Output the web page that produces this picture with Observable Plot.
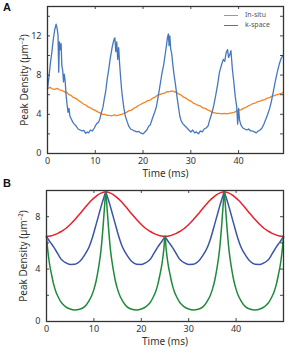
<!DOCTYPE html>
<html><head><meta charset="utf-8">
<script src="https://cdn.jsdelivr.net/npm/d3@7"></script>
<script src="https://cdn.jsdelivr.net/npm/@observablehq/plot@0.6"></script>
<style>
body{margin:0;background:#fff;}
#wrap{position:relative;width:300px;height:356px;font-family:"Noto Sans",sans-serif;}
#wrap svg{display:block;}
.panel{position:absolute;left:3px;font:bold 11px "Liberation Sans",Arial,sans-serif;color:#111;}
.leg{position:absolute;font:7px "Noto Sans",sans-serif;color:#555;line-height:10px;}
.leg span.sw{display:inline-block;width:14px;height:0;border-top:1.5px solid;vertical-align:middle;margin-right:7px;}
</style></head><body><div id="wrap"></div>
<script>
// ---------- Panel A data ----------
const tK = [0,0.3,0.6,0.9,1.2,1.5,1.8,2.0,2.2,2.35,2.5,2.7,2.85,3.0,3.2,3.35,3.5,3.7,3.9,4.1,4.3,4.5,4.7,5.0,5.3,5.6,6.0,6.4,6.8,7.2,7.6,8.0,8.3,8.6,9.0,9.4,9.8,10.1,10.4,10.7,11.0,11.3,11.6,11.9,12.2,12.5,12.8,13.1,13.3,13.6,13.9,14.1,14.3,14.5,14.7,14.9,15.1,15.3,15.5,15.7,16.0,16.3,16.7,17.0,17.4,17.8,18.2,18.7,19.1,19.5,20.0,20.4,20.8,21.2,21.5,21.9,22.2,22.5,22.8,23.1,23.4,23.7,24.0,24.3,24.6,24.9,25.1,25.3,25.45,25.6,25.8,26.0,26.2,26.5,26.8,27.1,27.4,27.7,28.0,28.4,28.8,29.2,29.6,30.0,30.4,30.8,31.2,31.6,32.0,32.4,32.8,33.2,33.6,34.0,34.4,34.8,35.2,35.6,36.0,36.4,36.8,37.1,37.4,37.7,37.9,38.1,38.4,38.7,39.0,39.3,39.6,39.8,40.0,40.2,40.5,40.9,41.3,41.7,42.1,42.5,42.9,43.3,43.7,44.1,44.5,44.9,45.3,45.7,46.1,46.5,46.9,47.3,47.7,48.1,48.5,48.9,49.3];
const kspace = [6.6,7.8,9.2,10.3,11.6,12.6,13.2,12.8,12.1,8.3,11.4,10.6,11.2,9.0,8.4,7.3,8.1,7.4,5.9,5.0,4.2,4.6,3.8,3.5,3.2,3.0,2.8,2.5,2.4,2.3,2.35,2.05,2.2,2.1,2.4,2.3,2.6,2.9,3.1,3.2,3.6,4.2,4.7,5.6,6.4,7.6,8.5,9.6,10.2,11.0,11.6,11.8,10.4,11.4,9.6,10.8,9.1,7.8,6.6,5.7,4.6,3.8,3.2,2.8,2.5,2.4,2.3,2.2,2.25,2.1,2.0,2.2,2.4,2.8,2.9,3.5,3.9,4.3,4.8,5.6,6.5,7.4,8.3,9.0,10.0,11.0,11.8,12.2,11.0,12.0,10.6,10.2,9.2,8.0,7.0,5.8,4.8,3.8,3.3,3.0,2.8,2.6,2.4,2.2,2.4,2.1,2.2,2.0,2.3,2.2,2.5,2.6,2.8,3.5,4.1,4.9,5.9,7.0,8.3,9.0,9.6,9.4,10.3,10.6,9.8,10.0,10.5,8.6,7.3,5.8,4.8,3.0,4.6,3.4,2.9,2.6,2.5,2.4,2.5,2.3,2.3,2.2,2.1,2.3,2.4,2.6,3.0,3.5,4.0,4.6,5.4,6.4,7.4,8.3,9.1,9.7,10.0];
const tS = [0,0.5,1,1.5,2,2.5,3,3.5,4,4.5,5,5.5,6,6.5,7,7.5,8,8.5,9,9.5,10,10.5,11,11.5,12,12.5,13,13.5,14,14.5,15,15.5,16,16.5,17,17.5,18,18.5,19,19.5,20,20.5,21,21.5,22,22.5,23,23.5,24,24.5,25,25.5,26,26.5,27,27.5,28,28.5,29,29.5,30,30.5,31,31.5,32,32.5,33,33.5,34,34.5,35,35.5,36,36.5,37,37.5,38,38.5,39,39.5,40,40.5,41,41.5,42,42.5,43,43.5,44,44.5,45,45.5,46,46.5,47,47.5,48,48.5,49,49.4];
const insitu = [6.6,6.75,6.6,6.55,6.65,6.5,6.45,6.3,6.25,6.0,5.9,5.7,5.6,5.4,5.25,5.05,4.95,4.75,4.65,4.5,4.4,4.25,4.15,4.0,4.0,3.9,3.9,3.85,3.95,3.85,3.95,4.0,4.1,4.2,4.35,4.4,4.6,4.7,4.9,5.0,5.15,5.25,5.4,5.45,5.65,5.75,5.95,6.0,6.1,6.15,6.3,6.3,6.4,6.3,6.25,6.05,5.95,5.75,5.65,5.45,5.35,5.15,5.05,4.9,4.85,4.65,4.6,4.45,4.35,4.2,4.15,4.1,4.1,4.05,4.1,4.05,4.1,4.15,4.2,4.3,4.4,4.45,4.6,4.7,4.85,4.95,5.1,5.15,5.3,5.35,5.45,5.5,5.65,5.7,5.85,5.9,6.0,6.05,6.15,6.2];

// ---------- Panel B data ----------
const tB = [0,0.25,0.5,0.75,1,1.5,2,2.5,3,3.5,4,5,6,7,8,9,9.5,10,10.5,11,11.5,12,12.25,12.5,
 12.75,13,13.5,14,14.5,15,15.5,16,17,18,19,20,21,21.5,22,22.5,23,23.5,24,24.25,24.5,24.75,25,
 25.25,25.5,25.75,26,26.5,27,27.5,28,28.5,29,30,31,32,33,34,34.5,35,35.5,36,36.5,37,37.25,37.5,
 37.75,38,38.5,39,39.5,40,40.5,41,42,43,44,45,46,46.5,47,47.5,48,48.5,49,49.25,49.5,49.75,50];
const redB = [6.5,6.5,6.51,6.52,6.54,6.6,6.67,6.75,6.85,6.96,7.08,7.4,7.78,8.2,8.64,9.06,9.25,9.42,9.57,9.7,9.8,9.87,9.89,9.9,
 9.89,9.87,9.8,9.7,9.57,9.42,9.25,9.06,8.64,8.2,7.78,7.4,7.08,6.96,6.85,6.75,6.67,6.6,6.54,6.52,6.51,6.5,6.5,
 6.5,6.51,6.52,6.54,6.6,6.67,6.75,6.85,6.96,7.08,7.4,7.78,8.2,8.64,9.06,9.25,9.42,9.57,9.7,9.8,9.87,9.89,9.9,
 9.89,9.87,9.8,9.7,9.57,9.42,9.25,9.06,8.64,8.2,7.78,7.4,7.08,6.96,6.85,6.75,6.67,6.6,6.54,6.52,6.51,6.5,6.5];
const blueB = [6.5,6.35,6.2,6.07,5.95,5.7,5.4,5.1,4.8,4.62,4.5,4.36,4.37,4.58,5.05,5.7,6.2,6.8,7.45,8.1,8.75,9.35,9.63,9.9,
 9.63,9.35,8.75,8.1,7.45,6.8,6.2,5.7,5.05,4.58,4.37,4.36,4.5,4.62,4.8,5.1,5.4,5.7,5.95,6.07,6.2,6.35,6.5,
 6.35,6.2,6.07,5.95,5.7,5.4,5.1,4.8,4.62,4.5,4.36,4.37,4.58,5.05,5.7,6.2,6.8,7.45,8.1,8.75,9.35,9.63,9.9,
 9.63,9.35,8.75,8.1,7.45,6.8,6.2,5.7,5.05,4.58,4.37,4.36,4.5,4.62,4.8,5.1,5.4,5.7,5.95,6.07,6.2,6.35,6.5];
const greenB = [6.5,5.5,4.75,4.15,3.7,2.85,2.25,1.85,1.52,1.3,1.14,0.95,0.88,0.93,1.12,1.6,1.95,2.45,3.15,4.15,5.45,7.55,8.8,9.9,
 8.8,7.55,5.45,4.15,3.15,2.45,1.95,1.6,1.12,0.93,0.88,0.95,1.14,1.3,1.52,1.85,2.25,2.85,3.7,4.15,4.75,5.5,6.5,
 5.5,4.75,4.15,3.7,2.85,2.25,1.85,1.52,1.3,1.14,0.95,0.88,0.93,1.12,1.6,1.95,2.45,3.15,4.15,5.45,7.55,8.8,9.9,
 8.8,7.55,5.45,4.15,3.15,2.45,1.95,1.6,1.12,0.93,0.88,0.95,1.14,1.3,1.52,1.85,2.25,2.85,3.7,4.15,4.75,5.5,6.5];

// ---------- ticks & labels ----------
const xTicks = [0,10,20,30,40];
const yTicksA = [0,4,8,12];
const yMinorA = [2,4,6,8,10,12,14];
const yTicksB = [0,4,8];
const yMinorB = [2,4,6,8];
const seriesA = ["In-situ","k-space"];
const colA = ["#f7821e","#4677be"];
const colB = ["#e8222b","#3b55a5","#1f8a3d"];
const xLabel = "Time (ms)";
const yLabel = "Peak Density (µm⁻²)";

const axisColor = "#333";
function framed(W,H,m,xd,yd,lines,yMaj,yMin){
  const pw = W-m.l-m.r, ph = H-m.t-m.b;
  return Plot.plot({
    width:W,height:H,marginLeft:m.l,marginRight:m.r,marginTop:m.t,marginBottom:m.b,
    style:{fontFamily:'"Noto Sans",sans-serif',fontSize:"9px",color:"#333",background:"#fff"},
    x:{domain:xd},y:{domain:yd},
    marks:[
      ...lines,
      Plot.tickX(xTicks,{x:d=>d,insetTop:ph-3,stroke:axisColor,strokeWidth:0.9}),
      Plot.tickX(xTicks,{x:d=>d,insetBottom:ph-3,stroke:axisColor,strokeWidth:0.9}),
      Plot.tickY(yMin,{y:d=>d,insetRight:pw-3,stroke:axisColor,strokeWidth:0.9}),
      Plot.tickY(yMin,{y:d=>d,insetLeft:pw-3,stroke:axisColor,strokeWidth:0.9}),
      Plot.frame({stroke:axisColor,strokeWidth:1.3}),
      Plot.axisX({ticks:xTicks,tickSize:0,tickPadding:4,label:null,fontSize:9}),
      Plot.axisX({ticks:[],tickSize:0,label:xLabel,labelAnchor:"center",labelArrow:"none",labelOffset:23,fontSize:10}),
      Plot.axisY({ticks:yMaj,tickSize:0,tickPadding:6,label:null,fontSize:9}),
      Plot.axisY({ticks:[],tickSize:0,label:yLabel,labelAnchor:"center",labelArrow:"none",labelOffset:27,fontSize:10})
    ]
  });
}

const wrap = document.getElementById("wrap");
const dataK = tK.map((t,i)=>({t,v:kspace[i]}));
const dataS = tS.map((t,i)=>({t,v:insitu[i]}));
const pA = framed(300,180,{l:47,r:17,t:6,b:27},[0,49.4],[0,15],[
  Plot.line(dataS,{x:"t",y:"v",stroke:colA[0],strokeWidth:1.3}),
  Plot.line(dataK,{x:"t",y:"v",stroke:colA[1],strokeWidth:1.3})
],yTicksA,yMinorA);
wrap.appendChild(pA);
const dB = tB.map((t,i)=>({t,r:redB[i],b:blueB[i],g:greenB[i]}));
const pB = framed(300,176,{l:46,r:17,t:10,b:35},[0,50],[0,10],[
  Plot.line(dB,{x:"t",y:"r",stroke:colB[0],strokeWidth:1.5,curve:"monotone-x"}),
  Plot.line(dB,{x:"t",y:"b",stroke:colB[1],strokeWidth:1.5,curve:"monotone-x"}),
  Plot.line(dB,{x:"t",y:"g",stroke:colB[2],strokeWidth:1.5,curve:"monotone-x"})
],yTicksB,yMinorB);
wrap.appendChild(pB);

// panel letters
[["A",1],["B",177]].forEach(([s,top])=>{
  const d=document.createElement("div");d.className="panel";d.style.top=top+"px";d.textContent=s;wrap.appendChild(d);
});
// legend
const leg=document.createElement("div");leg.className="leg";leg.style.left="224px";leg.style.top="10px";
leg.innerHTML=seriesA.map((s,i)=>`<div><span class="sw" style="border-color:${colA[i]}"></span>${s}</div>`).join("");
wrap.appendChild(leg);
</script>
</body></html>
